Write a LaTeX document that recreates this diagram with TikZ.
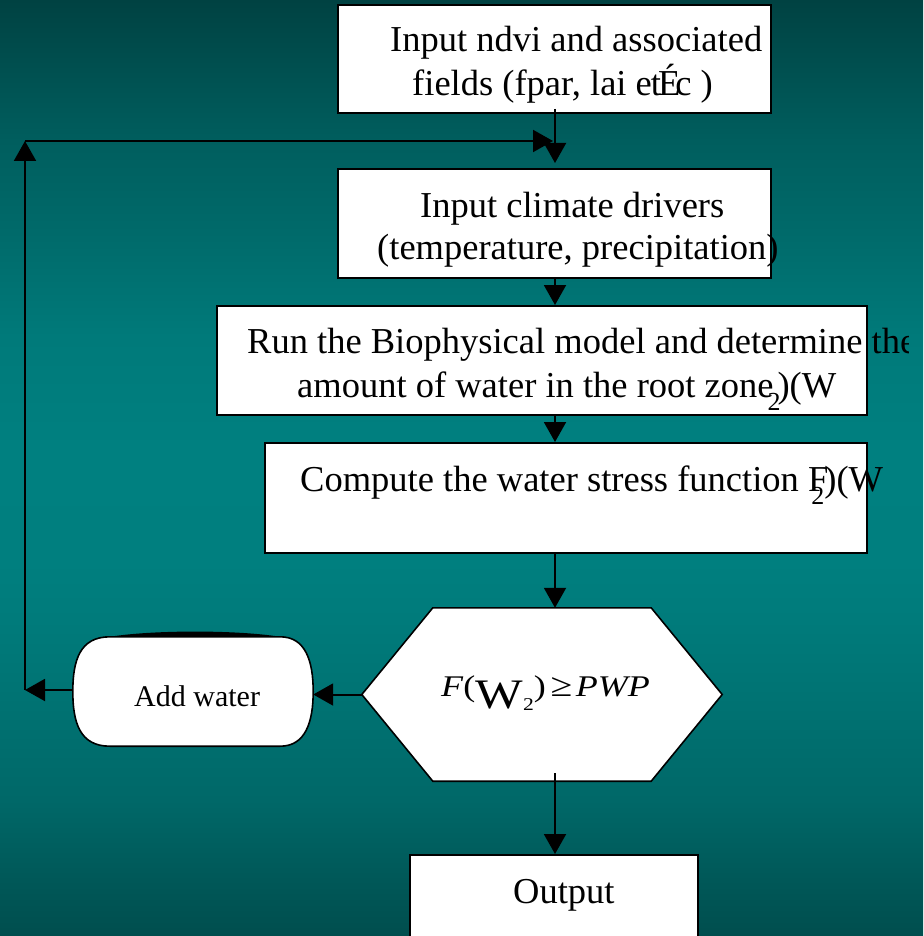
\documentclass[tikz,border=0pt]{standalone}
\usepackage{fontspec}
\setmainfont{Liberation Serif}
\usepackage{graphicx}
\usetikzlibrary{arrows.meta,calc}
\definecolor{bgA}{HTML}{004E4E}
\definecolor{bgB}{HTML}{005858}
\definecolor{bgC}{HTML}{006868}
\definecolor{bgD}{HTML}{007070}
\definecolor{bgE}{HTML}{007B7B}
\definecolor{bgF}{HTML}{007F7F}
\definecolor{bgG}{HTML}{008080}
\definecolor{bgH}{HTML}{007A7A}
\definecolor{bgI}{HTML}{006A6A}
\definecolor{bgJ}{HTML}{005E5E}
\definecolor{bgK}{HTML}{005656}
\definecolor{bgL}{HTML}{004242}
\pgfdeclareverticalshading{bgshade}{100bp}{color(0bp)=(bgA); color(25bp)=(bgA); color(28bp)=(bgB); color(32.26bp)=(bgC); color(36.3bp)=(bgD); color(41.9bp)=(bgE); color(45bp)=(bgF); color(51bp)=(bgG); color(57bp)=(bgH); color(62.6bp)=(bgI); color(67.47bp)=(bgJ); color(69.66bp)=(bgK); color(75bp)=(bgL); color(100bp)=(bgL)}
\newcommand\bigf{\fontsize{36.5}{42}\selectfont}
\newcommand\subtwo[1]{\raisebox{-13pt}{\fontsize{26}{26}\selectfont #1}}
\begin{document}
\begin{tikzpicture}[x=1pt,y=-1pt,
  box/.style={draw, line width=2pt, fill=white, inner sep=0pt, rectangle},
  txt/.style={anchor=base west, inner sep=0pt, font=\bigf},
  conn/.style={line width=2pt, -{Triangle[length=20pt,width=22pt]}},
  ghost/.style={inner sep=0pt, rectangle}
]
\useasboundingbox (0,0) rectangle (923,936);
\path[shading=bgshade] (0,0) rectangle (923,936);

\coordinate (xc) at (555,0);

% boxes
\node[box, minimum width=433pt, minimum height=108pt] (b1) at (554.5,59) {};
\node[box, minimum width=433pt, minimum height=109pt] (b2) at (554.5,223.5) {};
\node[box, minimum width=650pt, minimum height=109pt] (b3) at (542,360.5) {};
\node[box, minimum width=602pt, minimum height=110pt] (b4) at (566,498) {};
\node[box, minimum width=288pt, minimum height=110pt] (out) at (554,910) {};

% hexagon
\node[ghost, minimum width=360pt, minimum height=173pt] (hex) at (542,694.5) {};
\draw[line width=1.6pt, fill=white] (hex.west) -- ([xshift=71pt]hex.north west) -- ([xshift=-71pt]hex.north east) -- (hex.east) -- ([xshift=-71pt]hex.south east) -- ([xshift=71pt]hex.south west) -- cycle;

% add water shape
\node[ghost, minimum width=240pt, minimum height=109pt] (add) at (193,691.5) {};
\draw[line width=1.6pt, fill=white]
  ($(add.north west)+(37,0)$) -- ($(add.north east)+(-33,0)$)
  .. controls ($(add.north east)+(-8,0)$) and ($(add.east)+(0,-31)$) .. (add.east)
  .. controls ($(add.east)+(0,31)$) and ($(add.south east)+(-8,0)$) .. ($(add.south east)+(-33,0)$)
  -- ($(add.south west)+(37,0)$)
  .. controls ($(add.south west)+(7,0)$) and ($(add.west)+(0,31)$) .. (add.west)
  .. controls ($(add.west)+(0,-31)$) and ($(add.north west)+(7,0)$) .. cycle;
\fill ($(add.north west)+(37,0)$) .. controls ($(add.north west)+(80,-7)$) and ($(add.north east)+(-76,-7)$) .. ($(add.north east)+(-33,0)$) -- cycle;

% texts
\node[txt] (t1a) at (390,52) {Input ndvi and associated};
\node[txt] (t1b) at (412,96) {fields (fpar, lai e\hspace{-1pt}t\hspace{-3pt}É\hspace{-5pt}c )};
\node[txt] (t2a) at (420,217) {Input climate drivers};
\node[txt] (t2b) at (377,259) {(temperature, precipitation)};
\begin{scope}
\clip (0,0) rectangle (908,936);
\node[txt] (t3a) at (247,353) {Run the Biophysical model and determine the};
\end{scope}
\node[txt] (t3b) at (297,397) {amount of water in the root zone\hspace{-6pt}\subtwo{2}\hspace{-3pt})(W};
\node[txt] (t4) at (300,491) {Compute the water stress function F\hspace{-17pt}\subtwo{2})(W};
\node[anchor=base west, inner sep=0pt] (hext) at (441,696) {\scalebox{1.2}[1]{\fontsize{30}{30}\selectfont\textit{F}(\raisebox{-12pt}{\fontsize{42}{42}\selectfont W}\raisebox{-14pt}{\fontsize{18}{18}\selectfont 2})\hspace{4pt}{\fontsize{33}{33}\selectfont ≥}\hspace{3pt}\textit{PWP}}};
\node[anchor=base west, inner sep=0pt, font=\fontsize{30}{30}\selectfont] (addt) at (134,706) {Add water};
\node[txt] (outt) at (513,903) {Output};

% loop coordinates
\coordinate (c1) at (25,690);
\coordinate (c2) at (25,141);
\coordinate (c3) at (553,141);

% connectors
\draw[conn, shorten >=5pt] ([yshift=5pt]b1.south -| xc) -- (b2.north -| xc);
\draw[conn] (b2.south -| xc) -- (b3.north -| xc);
\draw[conn] (b3.south -| xc) -- (b4.north -| xc);
\draw[conn] (b4.south -| xc) -- (hex.north -| xc);
\draw[conn] ([yshift=8pt]hex.south -| xc) -- (out.north -| xc);
\draw[conn] (hex.west) -- (add.east |- hex.west);
\draw[conn] (add.west |- c1) -- (c1);
\draw[conn] (c1) -- (c2);
\draw[conn] (c2) -- (c3);
\end{tikzpicture}
\end{document}
